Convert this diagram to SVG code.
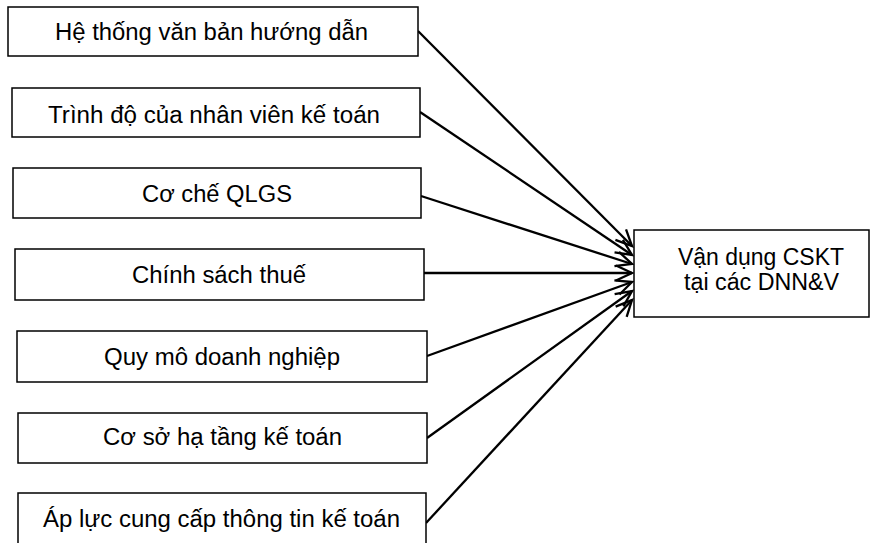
<svg xmlns="http://www.w3.org/2000/svg" width="877" height="543" viewBox="0 0 877 543">
<defs>
<style>
.box{fill:#fff;stroke:#000;stroke-width:1.5}
.lbl{font-family:"Liberation Sans",Arial,sans-serif;font-size:23px;fill:#000;text-anchor:middle}
.edge{stroke:#000;stroke-width:2.3;fill:none;marker-end:url(#ah)}
</style>
<marker id="ah" markerUnits="userSpaceOnUse" markerWidth="22" markerHeight="22" viewBox="-18 -11 22 22" refX="0" refY="0" orient="auto">
<path d="M-16,-7.5 L0,0 L-16,7.5" fill="none" stroke="#000" stroke-width="2.3"/>
</marker>
</defs>
<rect width="877" height="543" fill="#fff"/>
<g id="connectors">
<line class="edge" x1="418" y1="31" x2="632" y2="246"/>
<line class="edge" x1="420" y1="112" x2="632" y2="255"/>
<line class="edge" x1="421" y1="196" x2="632" y2="264"/>
<line class="edge" x1="424" y1="273" x2="632" y2="273"/>
<line class="edge" x1="427" y1="356" x2="632" y2="282"/>
<line class="edge" x1="427" y1="438" x2="632" y2="291"/>
<line class="edge" x1="426" y1="523" x2="632" y2="300"/>
</g>
<g id="n1"><rect class="box" x="8" y="7" width="410" height="49"/><text class="lbl" x="211.5" y="40" textLength="313" lengthAdjust="spacingAndGlyphs">Hệ thống văn bản hướng dẫn</text></g>
<g id="n2"><rect class="box" x="12" y="88" width="408" height="49"/><text class="lbl" x="214" y="123" textLength="332" lengthAdjust="spacingAndGlyphs">Trình độ của nhân viên kế toán</text></g>
<g id="n3"><rect class="box" x="13" y="168" width="408" height="50"/><text class="lbl" x="217" y="202" textLength="150" lengthAdjust="spacingAndGlyphs">Cơ chế QLGS</text></g>
<g id="n4"><rect class="box" x="15" y="249" width="409" height="51"/><text class="lbl" x="219" y="283" textLength="174" lengthAdjust="spacingAndGlyphs">Chính sách thuế</text></g>
<g id="n5"><rect class="box" x="17" y="331" width="410" height="51"/><text class="lbl" x="222" y="365" textLength="236" lengthAdjust="spacingAndGlyphs">Quy mô doanh nghiệp</text></g>
<g id="n6"><rect class="box" x="18" y="413" width="409" height="50"/><text class="lbl" x="222.5" y="445" textLength="239" lengthAdjust="spacingAndGlyphs">Cơ sở hạ tầng kế toán</text></g>
<g id="n7"><rect class="box" x="18" y="493" width="408" height="60"/><text class="lbl" x="221.5" y="527" textLength="357" lengthAdjust="spacingAndGlyphs">Áp lực cung cấp thông tin kế toán</text></g>
<g id="target"><rect class="box" x="634" y="230" width="235" height="87"/><text class="lbl" x="761" y="265" textLength="166" lengthAdjust="spacingAndGlyphs">Vận dụng CSKT</text><text class="lbl" x="761.5" y="290" textLength="155" lengthAdjust="spacingAndGlyphs">tại các DNN&amp;V</text></g>
</svg>
